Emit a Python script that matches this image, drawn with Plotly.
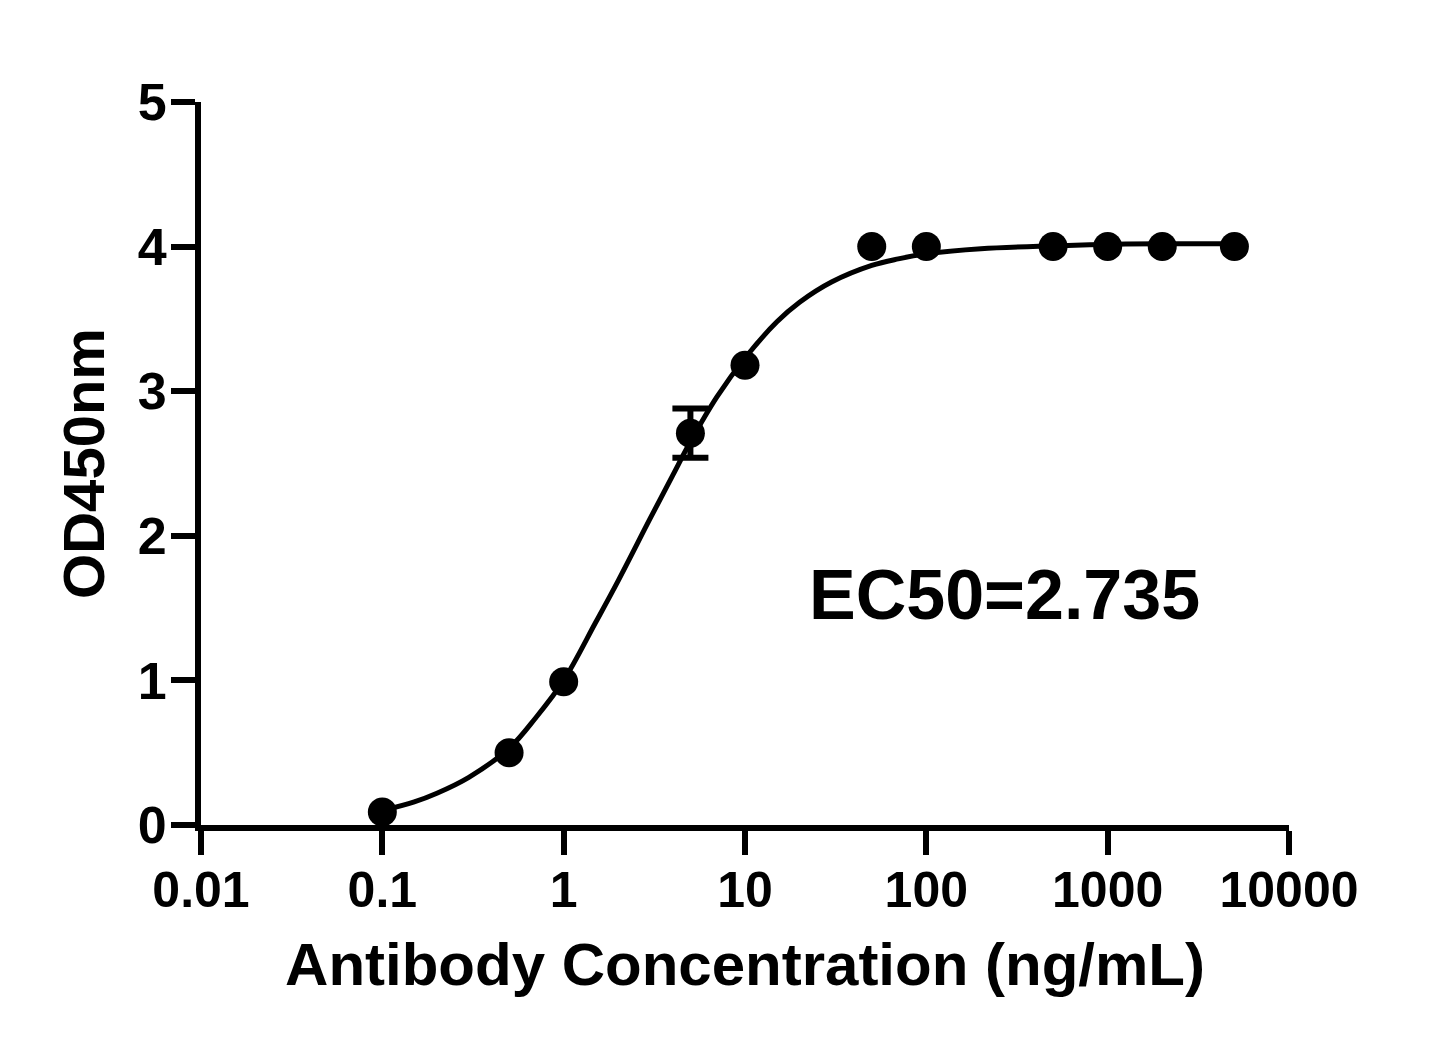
import plotly.graph_objects as go

# Measured data points
conc = [0.1, 0.5, 1, 5, 10, 50, 100, 500, 1000, 2000, 5000]
od450 = [0.09, 0.50, 0.99, 2.71, 3.18, 4.00, 4.00, 4.00, 4.00, 4.00, 4.00]
od_err = [0, 0, 0, 0.17, 0, 0, 0, 0, 0, 0, 0]

# Fitted curve
fit_x = [0.1, 0.15, 0.2, 0.3, 0.5, 0.7, 1, 1.5, 2, 3, 4, 5, 7, 10, 15, 20, 30, 50, 70, 100, 200, 500, 1000, 2000, 5000]
fit_y = [0.10, 0.16, 0.22, 0.33, 0.53, 0.74, 1.00, 1.40, 1.69, 2.12, 2.42, 2.65, 2.96, 3.23, 3.48, 3.615, 3.755,
         3.87, 3.915, 3.95, 3.985, 4.005, 4.015, 4.02, 4.02]

x_tickvals = [0.01, 0.1, 1, 10, 100, 1000, 10000]
x_ticktext = ["0.01", "0.1", "1", "10", "100", "1000", "10000"]
y_tickvals = [0, 1, 2, 3, 4, 5]

FONT = "Liberation Sans, Arial, sans-serif"

# points that carry a visible error bar
eb_idx = [i for i, e in enumerate(od_err) if e > 0]

fig = go.Figure()
fig.add_trace(go.Scatter(
    x=fit_x, y=fit_y, mode="lines",
    line=dict(color="black", width=5, shape="spline", smoothing=1.0),
    hoverinfo="skip", showlegend=False,
))
fig.add_trace(go.Scatter(
    x=[conc[i] for i in eb_idx], y=[od450[i] for i in eb_idx], mode="markers",
    marker=dict(color="black", size=1, opacity=0),
    error_y=dict(type="data", array=[od_err[i] for i in eb_idx], visible=True,
                 color="black", thickness=6, width=18),
    hoverinfo="skip", showlegend=False,
))
fig.add_trace(go.Scatter(
    x=conc, y=od450, mode="markers",
    marker=dict(color="black", size=29, line=dict(width=0)),
    showlegend=False,
))

fig.add_annotation(
    x=2.43, y=1.59, xref="x", yref="y", text="EC50=2.735", showarrow=False,
    font=dict(family=FONT, size=70, color="black", weight="bold"),
)

fig.update_layout(
    width=1455, height=1051,
    margin=dict(l=193, r=174, t=94, b=234),
    paper_bgcolor="white", plot_bgcolor="white",
    font=dict(family=FONT, color="black", weight="bold"),
    xaxis=dict(
        type="log", range=[-2, 4],
        tickvals=x_tickvals, ticktext=x_ticktext,
        showgrid=False, zeroline=False,
        showline=True, linecolor="black", linewidth=6,
        ticks="outside", ticklen=24, tickwidth=6, tickcolor="black",
        ticklabelstandoff=-8,
        tickfont=dict(family=FONT, size=50, color="black", weight="bold"),
        title=dict(text="Antibody Concentration (ng/mL)", standoff=28,
                   font=dict(family=FONT, size=60, color="black", weight="bold")),
    ),
    yaxis=dict(
        range=[0, 5], tickvals=y_tickvals,
        showgrid=False, zeroline=False,
        showline=True, linecolor="black", linewidth=6,
        ticks="outside", ticklen=24, tickwidth=6, tickcolor="black",
        ticklabelstandoff=-6,
        tickfont=dict(family=FONT, size=52, color="black", weight="bold"),
        title=dict(text="OD450nm", standoff=16,
                   font=dict(family=FONT, size=58, color="black", weight="bold")),
    ),
)

fig.write_html("out.html")
